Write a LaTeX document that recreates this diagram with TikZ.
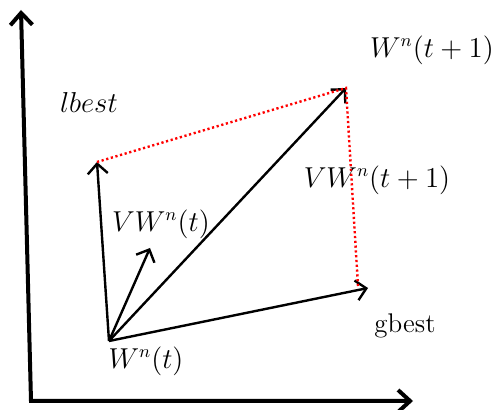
\documentclass[tikz,border=0pt]{standalone}
\usepackage{amsmath}
\usetikzlibrary{arrows.meta}

\begin{document}
\begin{tikzpicture}[
    x=0.5pt, y=-0.5pt, font=\fontsize{13.5}{16}\selectfont,
    axis/.style={line width=2pt, {Straight Barb[length=6pt, width=11pt, line width=2pt]}-{Straight Barb[length=6pt, width=11pt, line width=2pt]}},
    vec/.style={line width=1.2pt, -{Straight Barb[length=5pt, width=10pt, line width=1.2pt]}},
    move/.style={red, line width=1.2pt, dash pattern=on 1.1pt off 1.3pt},
    lbl/.style={inner sep=1pt},
  ]
  \useasboundingbox (0,0) rectangle (492,410);

  \coordinate (o) at (31,401);
  \coordinate (ytip) at (21,10);
  \coordinate (xtip) at (413,401);
  \coordinate (w) at (109,341);
  \coordinate (lb) at (97,162);
  \coordinate (wnext) at (346,88);
  \coordinate (gb) at (368,288);
  \coordinate (v) at (150,248);
  \coordinate (gbend) at (358,286);

  \draw[axis] (ytip) -- (o) -- (xtip);

  \draw[vec] (w) -- (lb);
  \draw[vec] (w) -- (v);
  \draw[vec] (w) -- (wnext);
  \draw[vec] (w) -- (gb);

  \draw[move] (lb) -- (wnext) -- (gbend);

  \node[lbl] (lbest) at (89,103) {$lbest$};
  \node[lbl] (gbest) at (405,326) {gbest};
  \node[lbl] (wnlabel) at (432,50) {$W^n(t+1)$};
  \node[lbl] (vwnext) at (377,180) {$VW^n(t+1)$};
  \node[lbl] (vwn) at (161,224) {$VW^n(t)$};
  \node[lbl] (wn) at (146,361) {$W^n(t)$};
\end{tikzpicture}
\end{document}
